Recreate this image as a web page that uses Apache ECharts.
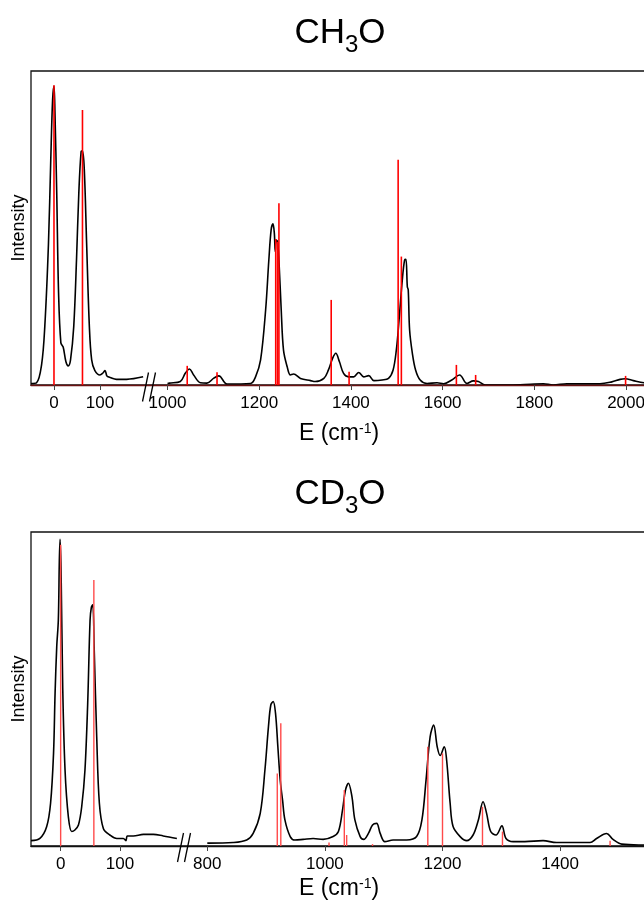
<!DOCTYPE html>
<html>
<head>
<meta charset="utf-8">
<script src="https://cdn.jsdelivr.net/npm/echarts@6/dist/echarts.min.js"></script>
<style>
  html, body { margin: 0; padding: 0; overflow: hidden; background: #fff; }
  #chart { width: 720px; height: 900px; }
</style>
</head>
<body>
<div id="chart"></div>
<script>
// CH3O spectrum, [E (cm-1), intensity in % of panel height]
const ch3oLowCurve = [[-50,0.5],[-38,0.7],[-27,6.4],[-20,18.6],[-12,45],[-7,71.7],[-3,90.8],[0,95.2],[2,87.6],[6,61],[10,29.3],[15,13.4],[20,12.1],[26,7.4],[31,6.1],[36,8],[43,18.6],[49,39.8],[54,61],[59,74.3],[62,74.6],[66,68.5],[71,45.2],[77,18.6],[82,8],[89,4.6],[100,3.2],[107,3.9],[111,4.6],[115,2.9],[118,2.6],[122,2.4],[136,1.8],[158,1.8],[194,2.6]];
const ch3oHighCurve = [[1000,0.5],[1004,0.6],[1028,1.1],[1039,3.8],[1048,5.1],[1057,3.2],[1072,0.7],[1086,0.6],[1101,2.2],[1112,2.9],[1130,0.3],[1181,0.5],[1192,2.6],[1203,8],[1214,23.9],[1221,39.8],[1226,49.4],[1230,51.3],[1233,48.3],[1235,42.5],[1237,46.2],[1240,45.6],[1243,39.8],[1248,23.9],[1253,11.1],[1261,5.8],[1268,3.2],[1275,3.5],[1290,2.1],[1312,1.4],[1322,1.1],[1341,2.1],[1351,4.8],[1360,8.5],[1367,10.1],[1375,7.4],[1384,3.7],[1395,2.6],[1406,2.6],[1417,4.0],[1428,2.6],[1439,3.0],[1450,1.4],[1468,1.6],[1482,2.1],[1492,4.8],[1499,11.1],[1505,20.7],[1512,33.4],[1517,39.8],[1520,40],[1523,31.3],[1525,30.3],[1528,17.5],[1534,10.1],[1541,4.8],[1551,1.6],[1566,0.5],[1588,0.7],[1602,0.4],[1620,1.6],[1637,3.2],[1653,0.5],[1667,1.3],[1678,1.1],[1693,0],[1769,0.1],[1820,0.4],[1841,0],[1871,0.4],[1943,0.4],[1969,1],[1987,1.8],[1998,2.0],[2016,1.4],[2039,0.7],[2060,0.3],[2100,0.2]];
const ch3oSticks = [[0,95.5],[62,87.6],[1043,6.1],[1108,4.1],[1236,46.5],[1240,45.6],[1243,57.9],[1357,27.1],[1396,4.2],[1503,71.7],[1510,40.9],[1630,6.4],[1672,3.2],[1999,2.9]];

// CD3O spectrum
const cd3oLowCurve = [[-50,1.7],[-35,2.4],[-23.5,6.2],[-17,13.6],[-12,29.5],[-9.4,48.6],[-6.6,63.5],[-3.9,72],[-2.2,91],[-1,97.7],[0.7,87.9],[3.5,50.4],[7.4,24.2],[13,9.3],[18.7,4.6],[24,5.1],[30,6.7],[35.5,12.5],[41,24.2],[45.6,45.4],[49.6,72],[51.8,76],[54.1,76.8],[56.8,61.3],[60.8,34.8],[65.3,13.6],[72,5.6],[83,3.5],[94.6,2.4],[105.7,2.4],[110,1.7],[112.5,3.2],[122.6,3.2],[139.5,3.7],[156.3,3.7],[173,3.2],[196,2.4]];
const cd3oHighCurve = [[800,0.9],[802,0.9],[844,1.1],[867,1.9],[878,4],[890,10.4],[898,24.2],[904,38],[908,44.9],[912,46],[916,42.3],[920,31.6],[924,21],[928,14.6],[932,8.3],[941,3],[949,1.9],[963,2.1],[980,2.4],[997,2.1],[1014,3],[1023,4.6],[1030,11.5],[1035,17.8],[1040,20],[1046,15.7],[1051,8.3],[1060,3],[1066,2.1],[1074,4],[1081,6.7],[1088,7.2],[1094,4],[1102,1.4],[1116,1.9],[1139,1.9],[1156,3],[1165,8.3],[1172,21],[1179,34.8],[1185,38.5],[1191,31.6],[1196,28.8],[1203,31.6],[1207,27.4],[1213,13.6],[1218,6.2],[1230,3],[1241,1.7],[1252,3.5],[1261,8.3],[1269,14.1],[1275,10.4],[1282,4.6],[1291,3.5],[1301,6.4],[1308,2.4],[1320,1.4],[1340,1.4],[1371,1.7],[1394,1.1],[1451,1.1],[1462,2.4],[1479,4],[1490,2.1],[1505,0.6],[1543,0.3],[1600,0.2],[1650,0.2]];
const cd3oSticks = [[0,95.9],[56,84.7],[919,23.1],[925,39.1],[1007,1.1],[1033,17.8],[1037,3.5],[1081,0.6],[1175,31.6],[1200,29.5],[1268,12.5],[1302,4.6],[1485,1.7]];

// tick labels
const ch3oLowTicks = [0, 100];
const ch3oHighTicks = [1000, 1200, 1400, 1600, 1800, 2000];
const cd3oLowTicks = [0, 100];
const cd3oHighTicks = [800, 1000, 1200, 1400];

const FONT = 'Liberation Sans, Arial, Helvetica, sans-serif';

function xAx(gridIndex, min, max, ticks, lineColor) {
  return {
    type: 'value', gridIndex: gridIndex, min: min, max: max, z: 3,
    splitLine: { show: false },
    axisLine: { show: true, lineStyle: { color: lineColor, width: 1.4 } },
    axisTick: { show: true, inside: false, length: 5, customValues: ticks, lineStyle: { color: '#444', width: 1 } },
    axisLabel: { customValues: ticks, margin: 10, color: '#000', fontSize: 17, fontFamily: FONT,
      formatter: v => String(v) }
  };
}
function yAx(gridIndex) {
  return { type: 'value', gridIndex: gridIndex, min: 0, max: 100, show: false };
}
function curve(i, data) {
  return {
    type: 'line', xAxisIndex: i, yAxisIndex: i, data: data, smooth: 0.35,
    showSymbol: false, silent: true, lineStyle: { color: '#000', width: 1.6 }, z: 2
  };
}
function sticks(i, data, color, w) {
  return {
    type: 'bar', xAxisIndex: i, yAxisIndex: i, data: data, barWidth: w, silent: true,
    itemStyle: { color: color }, z: 4
  };
}
function title(y, mid) {
  return {
    type: 'text', x: 340, y: y, silent: true,
    style: {
      text: '{a|C' + mid + '}{s|3}{a|O}', align: 'center', textAlign: 'center',
      verticalAlign: 'top', textVerticalAlign: 'top', fill: '#000',
      rich: {
        a: { fontSize: 35, fontFamily: FONT, verticalAlign: 'top', color: '#000' },
        s: { fontSize: 24, fontFamily: FONT, verticalAlign: 'top', padding: [17, 0, 0, 0], color: '#000' }
      }
    }
  };
}
function xName(y) {
  return {
    type: 'text', x: 339, y: y, silent: true,
    style: {
      text: '{a|E (cm}{s|-1}{a|)}', align: 'center', textAlign: 'center',
      verticalAlign: 'middle', textVerticalAlign: 'middle', fill: '#000',
      rich: {
        a: { fontSize: 23, fontFamily: FONT, verticalAlign: 'bottom', color: '#000' },
        s: { fontSize: 14, fontFamily: FONT, verticalAlign: 'top', color: '#000' }
      }
    }
  };
}
function yName(y) {
  return {
    type: 'text', x: 19, y: y, rotation: Math.PI / 2, silent: true,
    style: { text: 'Intensity', font: '18px ' + FONT, fill: '#000',
      align: 'center', textAlign: 'center', verticalAlign: 'middle', textVerticalAlign: 'middle' }
  };
}
function brk(x, y) {
  return [
    { type: 'line', silent: true, z: 10, shape: { x1: x, y1: y + 29, x2: x + 6, y2: y }, style: { stroke: '#000', lineWidth: 1.3 } },
    { type: 'line', silent: true, z: 10, shape: { x1: x + 7, y1: y + 29, x2: x + 13, y2: y }, style: { stroke: '#000', lineWidth: 1.3 } }
  ];
}

const low = d => d.filter(p => p[0] < 500);
const high = d => d.filter(p => p[0] >= 500);
const redDark = '#6a1212';

const chart = echarts.init(document.getElementById('chart'), null, { renderer: 'canvas' });
chart.setOption({
  backgroundColor: '#fff',
  animation: false,
  grid: [
    { left: 31, top: 71, width: 136.5, height: 314 },
    { left: 167.5, top: 71, width: 504.4, height: 314 },
    { left: 31, top: 532, width: 176.3, height: 314 },
    { left: 207.3, top: 532, width: 499.8, height: 314 },
    { left: 31, top: 71, width: 680, height: 314, show: true, borderColor: '#111', borderWidth: 1.3, backgroundColor: 'transparent' },
    { left: 31, top: 532, width: 680, height: 314, show: true, borderColor: '#111', borderWidth: 1.3, backgroundColor: 'transparent' }
  ],
  xAxis: [
    xAx(0, -50, 247, ch3oLowTicks, redDark),
    xAx(1, 1000, 2100, ch3oHighTicks, redDark),
    xAx(2, -50, 247.3, cd3oLowTicks, '#111'),
    xAx(3, 800, 1650, cd3oHighTicks, '#111'),
    { type: 'value', gridIndex: 4, show: false },
    { type: 'value', gridIndex: 5, show: false }
  ],
  yAxis: [yAx(0), yAx(1), yAx(2), yAx(3), yAx(4), yAx(5)],
  series: [
    curve(0, ch3oLowCurve),
    curve(1, ch3oHighCurve),
    curve(2, cd3oLowCurve),
    curve(3, cd3oHighCurve),
    sticks(0, low(ch3oSticks), '#ff0000', 1.6),
    sticks(1, high(ch3oSticks), '#ff0000', 1.6),
    sticks(2, low(cd3oSticks), '#ff4a4a', 1.4),
    sticks(3, high(cd3oSticks), '#ff4a4a', 1.4)
  ],
  graphic: [
    title(16, 'H'),
    title(477, 'D'),
    xName(434),
    xName(889),
    yName(228),
    yName(689)
  ].concat(brk(142.5, 372.5), brk(177.5, 833))
});
</script>
</body>
</html>
